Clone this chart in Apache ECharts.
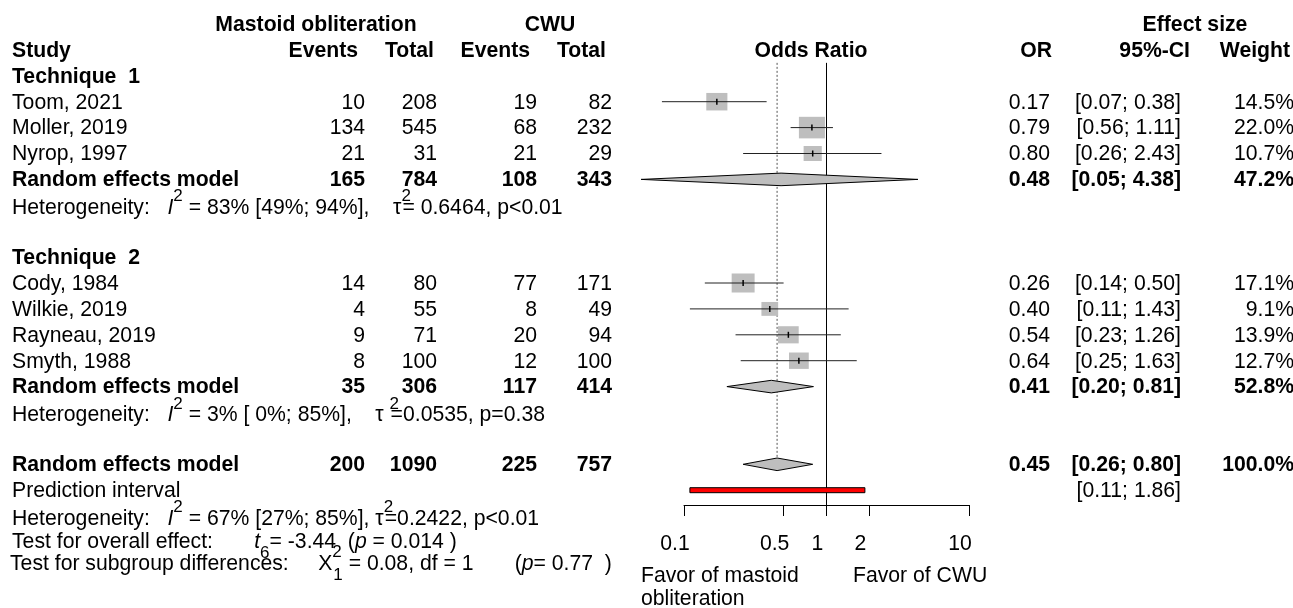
<!DOCTYPE html>
<html>
<head>
<meta charset="utf-8">
<script src="https://cdn.jsdelivr.net/npm/echarts@6/dist/echarts.min.js"></script>
<style>
  html, body { margin: 0; padding: 0; background: #fff; }
  #chart { width: 1293px; height: 608px; }
</style>
</head>
<body>
<div id="chart"></div>
<script>
// study level data
const studies = ['Toom, 2021', 'Moller, 2019', 'Nyrop, 1997', 'Cody, 1984', 'Wilkie, 2019', 'Rayneau, 2019', 'Smyth, 1988']
const eventsMO = [10, 134, 21, 14, 4, 9, 8]
const totalMO = [208, 545, 31, 80, 55, 71, 100]
const eventsCWU = [19, 68, 21, 77, 8, 20, 12]
const totalCWU = [82, 232, 29, 171, 49, 94, 100]
const oddsRatio = [0.17, 0.79, 0.80, 0.26, 0.40, 0.54, 0.64]
const ciLow = [0.07, 0.56, 0.26, 0.14, 0.11, 0.23, 0.25]
const ciHigh = [0.38, 1.11, 2.43, 0.50, 1.43, 1.26, 1.63]
const weight = [14.5, 22.0, 10.7, 17.1, 9.1, 13.9, 12.7]

// pooled (Technique 1, Technique 2, overall)
const pooledEventsMO = [165, 35, 200]
const pooledTotalMO = [784, 306, 1090]
const pooledEventsCWU = [108, 117, 225]
const pooledTotalCWU = [343, 414, 757]
const pooledOR = [0.48, 0.41, 0.45]
const pooledLow = [0.05, 0.20, 0.26]
const pooledHigh = [4.38, 0.81, 0.80]
const pooledWeight = ['47.2%', '52.8%', '100.0%']

const predInterval = [0.11, 1.86]

const tickValues = [0.1, 0.5, 1, 2, 10]
const tickLabels = ['0.1', '0.5', '1', '2', '10']

// layout
const FONT = 'Liberation Sans, Arial, Helvetica, sans-serif'
const FS = 21.2
const SS = 17
const TOP = 24
const STEP = 25.9
const AXIS_Y = 505
const AXIS_ROWS = (AXIS_Y - TOP) / STEP
const studyRows = [3, 4, 5, 10, 11, 12, 13]
const pooledRows = [6, 14, 17]
const predRow = 18
const DIAMOND_H = 6.3

function rowY(r) {
  return TOP + STEP * r + 1
}
function fmt2(v) {
  return v.toFixed(2)
}
function ciText(lo, hi) {
  return '[' + fmt2(lo) + '; ' + fmt2(hi) + ']'
}

const elements = []
function addText(x, y, text, align, bold) {
  elements.push({
    type: 'text',
    x: x,
    y: y,
    silent: true,
    style: {
      text: text,
      fill: '#000',
      fontFamily: FONT,
      fontSize: FS,
      fontWeight: bold ? 'bold' : 'normal',
      align: align,
      verticalAlign: 'middle',
      textAlign: align,
      textVerticalAlign: 'middle'
    }
  })
}

const richStyles = {
  n: { fontFamily: FONT, fontSize: FS, lineHeight: 40, fill: '#000' },
  i: { fontFamily: FONT, fontSize: FS, lineHeight: 40, fontStyle: 'italic', fill: '#000' },
  sup: { fontFamily: FONT, fontSize: SS, lineHeight: 18, verticalAlign: 'top', fill: '#000' },
  sup0: { fontFamily: FONT, fontSize: SS, lineHeight: 18, verticalAlign: 'top', width: 1, fill: '#000' },
  sub: { fontFamily: FONT, fontSize: SS, lineHeight: 18, verticalAlign: 'bottom', fill: '#000' }
}
function addRich(x, y, text) {
  elements.push({
    type: 'text',
    x: x,
    y: y,
    silent: true,
    style: {
      text: text,
      fill: '#000',
      fontFamily: FONT,
      fontSize: FS,
      align: 'left',
      verticalAlign: 'middle',
      textAlign: 'left',
      textVerticalAlign: 'middle',
      rich: richStyles
    }
  })
}

// column headers
addText(316, rowY(0), 'Mastoid obliteration', 'center', true)
addText(550, rowY(0), 'CWU', 'center', true)
addText(1195, rowY(0), 'Effect size', 'center', true)
addText(12, rowY(1), 'Study', 'left', true)
addText(358, rowY(1), 'Events', 'right', true)
addText(434, rowY(1), 'Total', 'right', true)
addText(530, rowY(1), 'Events', 'right', true)
addText(606, rowY(1), 'Total', 'right', true)
addText(811, rowY(1), 'Odds Ratio', 'center', true)
addText(1052, rowY(1), 'OR', 'right', true)
addText(1190, rowY(1), '95%-CI', 'right', true)
addText(1290, rowY(1), 'Weight', 'right', true)

addText(12, rowY(2), 'Technique  1', 'left', true)
addText(12, rowY(9), 'Technique  2', 'left', true)

studies.forEach(function (name, i) {
  const y = rowY(studyRows[i])
  addText(12, y, name, 'left', false)
  addText(365, y, String(eventsMO[i]), 'right', false)
  addText(437, y, String(totalMO[i]), 'right', false)
  addText(537, y, String(eventsCWU[i]), 'right', false)
  addText(612, y, String(totalCWU[i]), 'right', false)
  addText(1050, y, fmt2(oddsRatio[i]), 'right', false)
  addText(1181, y, ciText(ciLow[i], ciHigh[i]), 'right', false)
  addText(1294, y, weight[i].toFixed(1) + '%', 'right', false)
})

pooledRows.forEach(function (r, i) {
  const y = rowY(r)
  addText(12, y, 'Random effects model', 'left', true)
  addText(365, y, String(pooledEventsMO[i]), 'right', true)
  addText(437, y, String(pooledTotalMO[i]), 'right', true)
  addText(537, y, String(pooledEventsCWU[i]), 'right', true)
  addText(612, y, String(pooledTotalCWU[i]), 'right', true)
  addText(1050, y, fmt2(pooledOR[i]), 'right', true)
  addText(1181, y, ciText(pooledLow[i], pooledHigh[i]), 'right', true)
  addText(1294, y, pooledWeight[i], 'right', true)
})

addText(12, rowY(predRow), 'Prediction interval', 'left', false)
addText(1181, rowY(predRow), ciText(predInterval[0], predInterval[1]), 'right', false)

// heterogeneity and tests
addRich(12, rowY(7) + 2, '{n|Heterogeneity:   }{i|I}{sup|2}{n| = 83% [49%; 94%],    τ}{sup0|2}{n|= 0.6464, p<0.01}')
addRich(12, rowY(15) + 2, '{n|Heterogeneity:   }{i|I}{sup|2}{n| = 3% [ 0%; 85%],    τ }{sup0|2}{n|=0.0535, p=0.38}')
addRich(12, 519, '{n|Heterogeneity:   }{i|I}{sup|2}{n| = 67% [27%; 85%], τ}{sup0|2}{n|=0.2422, p<0.01}')
addRich(12, 542, '{n|Test for overall effect:       }{i|t}{sub|6}{n|= -3.44  (}{i|p}{n| = 0.014 )}')
addRich(10, 564, '{n|Test for subgroup differences:     X}{sup0|2}{sub|1}{n| = 0.08, df = 1       (}{i|p}{n|= 0.77  )}')

// axis captions
addText(641, 576, 'Favor of mastoid', 'left', false)
addText(641, 599, 'obliteration', 'left', false)
addText(853, 576, 'Favor of CWU', 'left', false)

const lg = Math.log10
const studyData = studies.map(function (s, i) {
  return [lg(ciLow[i]), lg(ciHigh[i]), studyRows[i], lg(oddsRatio[i]), weight[i]]
})
const diamondData = pooledRows.map(function (r, i) {
  return [lg(pooledLow[i]), lg(pooledHigh[i]), r, lg(pooledOR[i])]
})
const predData = [[lg(predInterval[0]), lg(predInterval[1]), predRow]]
// reference lines: [x, fromRow, toRow, dotted]
const refData = [
  [0, 1.5, AXIS_ROWS, 0],
  [lg(pooledOR[2]), 1.5, pooledRows[2], 1]
]

const chart = echarts.init(document.getElementById('chart'))
chart.setOption({
  animation: false,
  backgroundColor: '#fff',
  grid: {
    left: 684,
    width: 285,
    top: TOP,
    height: AXIS_Y - TOP,
    outerBoundsMode: 'none'
  },
  xAxis: {
    type: 'value',
    position: 'bottom',
    min: -1,
    max: 1,
    splitLine: { show: false },
    axisLine: { show: true, onZero: false, lineStyle: { color: '#000', width: 1 } },
    axisTick: {
      show: true,
      length: 11,
      customValues: tickValues.map(lg),
      lineStyle: { color: '#000', width: 1 }
    },
    axisLabel: {
      customValues: tickValues.map(lg),
      margin: 29,
      color: '#000',
      fontFamily: FONT,
      fontSize: FS,
      padding: [0, 18, 0, 0],
      formatter: function (v) {
        let best = 0
        tickValues.forEach(function (t, k) {
          if (Math.abs(lg(t) - v) < Math.abs(lg(tickValues[best]) - v)) best = k
        })
        return tickLabels[best]
      }
    }
  },
  yAxis: {
    type: 'value',
    min: 0,
    max: AXIS_ROWS,
    inverse: true,
    show: false
  },
  series: [
    {
      type: 'custom',
      clip: false,
      silent: true,
      data: refData,
      encode: { x: 0, y: [1, 2] },
      renderItem: function (params, api) {
        const a = api.coord([api.value(0), api.value(1)])
        const b = api.coord([api.value(0), api.value(2)])
        const dotted = api.value(3) === 1
        return {
          type: 'line',
          shape: { x1: a[0], y1: a[1], x2: b[0], y2: dotted ? b[1] - DIAMOND_H : b[1] },
          style: dotted
            ? { stroke: '#555', lineWidth: 1, lineDash: [2, 2] }
            : { stroke: '#000', lineWidth: 1 }
        }
      }
    },
    {
      type: 'custom',
      clip: false,
      silent: true,
      data: studyData,
      encode: { x: [0, 1, 3], y: 2 },
      renderItem: function (params, api) {
        const lo = api.coord([api.value(0), api.value(2)])
        const hi = api.coord([api.value(1), api.value(2)])
        const est = api.coord([api.value(3), api.value(2)])
        const s = Math.sqrt(api.value(4))
        const w = 5.55 * s
        const h = 4.6 * s
        return {
          type: 'group',
          children: [
            {
              type: 'rect',
              shape: { x: est[0] - w / 2, y: est[1] - h / 2, width: w, height: h },
              style: { fill: '#bebebe' }
            },
            {
              type: 'line',
              shape: { x1: lo[0], y1: lo[1], x2: hi[0], y2: hi[1] },
              style: { stroke: '#222', lineWidth: 1 }
            },
            {
              type: 'line',
              shape: { x1: est[0], y1: est[1] - 3, x2: est[0], y2: est[1] + 3 },
              style: { stroke: '#000', lineWidth: 1.5 }
            }
          ]
        }
      }
    },
    {
      type: 'custom',
      clip: false,
      silent: true,
      data: diamondData,
      encode: { x: [0, 1, 3], y: 2 },
      renderItem: function (params, api) {
        const lo = api.coord([api.value(0), api.value(2)])
        const hi = api.coord([api.value(1), api.value(2)])
        const est = api.coord([api.value(3), api.value(2)])
        return {
          type: 'polygon',
          shape: {
            points: [
              [lo[0], lo[1]],
              [est[0], est[1] - DIAMOND_H],
              [hi[0], hi[1]],
              [est[0], est[1] + DIAMOND_H]
            ]
          },
          style: { fill: '#bebebe', stroke: '#000', lineWidth: 1 }
        }
      }
    },
    {
      type: 'custom',
      clip: false,
      silent: true,
      data: predData,
      encode: { x: [0, 1], y: 2 },
      renderItem: function (params, api) {
        const lo = api.coord([api.value(0), api.value(2)])
        const hi = api.coord([api.value(1), api.value(2)])
        return {
          type: 'rect',
          shape: { x: lo[0], y: lo[1] - 2.5, width: hi[0] - lo[0], height: 5 },
          style: { fill: '#ff0000', stroke: '#000', lineWidth: 1 }
        }
      }
    }
  ],
  graphic: { elements: elements }
})
</script>
</body>
</html>
